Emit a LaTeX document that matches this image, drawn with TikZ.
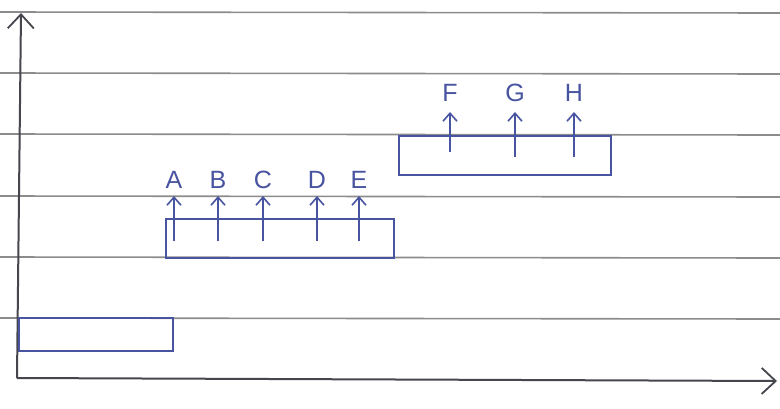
\documentclass[tikz,border=0pt]{standalone}
\usepackage{fontspec}
\setmainfont{Liberation Sans}
\usetikzlibrary{arrows.meta}
\definecolor{ink}{RGB}{72,84,160}
\definecolor{pencil}{RGB}{70,70,78}
\definecolor{rule}{RGB}{140,140,140}
\begin{document}
\begin{tikzpicture}[x=1pt,y=-1pt,
  ruled/.style={rule,line width=1.6pt},
  axis/.style={pencil,line width=2pt,-{Straight Barb[length=14pt,width=26pt,line width=1.8pt]}},
  bar/.style={draw=ink,line width=2pt,rectangle,inner sep=0pt,anchor=north west},
  up/.style={ink,line width=1.8pt,-{Straight Barb[length=8pt,width=14pt,line width=1.6pt]}},
  tag/.style={ink,font=\fontsize{25}{28}\selectfont,inner sep=0pt,anchor=base}]
\useasboundingbox[fill=white] (0,0) rectangle (780,408);
% ruled paper
\foreach \yy in {12,73,134,196,257,318}
  \draw[ruled] (0,\yy) -- (780,\yy+1);
% axes
\coordinate (origin) at (17,378);
\coordinate (ytop) at (21,13);
\coordinate (xend) at (777,381);
\draw[axis] (origin) -- (ytop);
\draw[axis] (origin) -- (xend);
% bars
\node[bar,minimum width=154pt,minimum height=33pt] (base) at (18,317) {};
\node[bar,minimum width=228pt,minimum height=39pt] (low) at (165,218) {};
\node[bar,minimum width=212pt,minimum height=39pt] (high) at (398,135) {};
% arrows on the lower bar
\foreach \n/\xx in {A/174,B/218,C/263,D/317,E/359}{
  \coordinate (t\n) at (\xx,241);
  \coordinate (h\n) at (\xx,196);
  \draw[up] (t\n) -- (h\n);
  \node[tag] (l\n) at (\xx,188) {\n};
}
% arrows on the upper bar
\foreach \n/\xx/\yt in {F/450/152,G/515/157,H/574/157}{
  \coordinate (t\n) at (\xx,\yt);
  \coordinate (h\n) at (\xx,112);
  \draw[up] (t\n) -- (h\n);
  \node[tag] (l\n) at (\xx,101) {\n};
}
\end{tikzpicture}
\end{document}
